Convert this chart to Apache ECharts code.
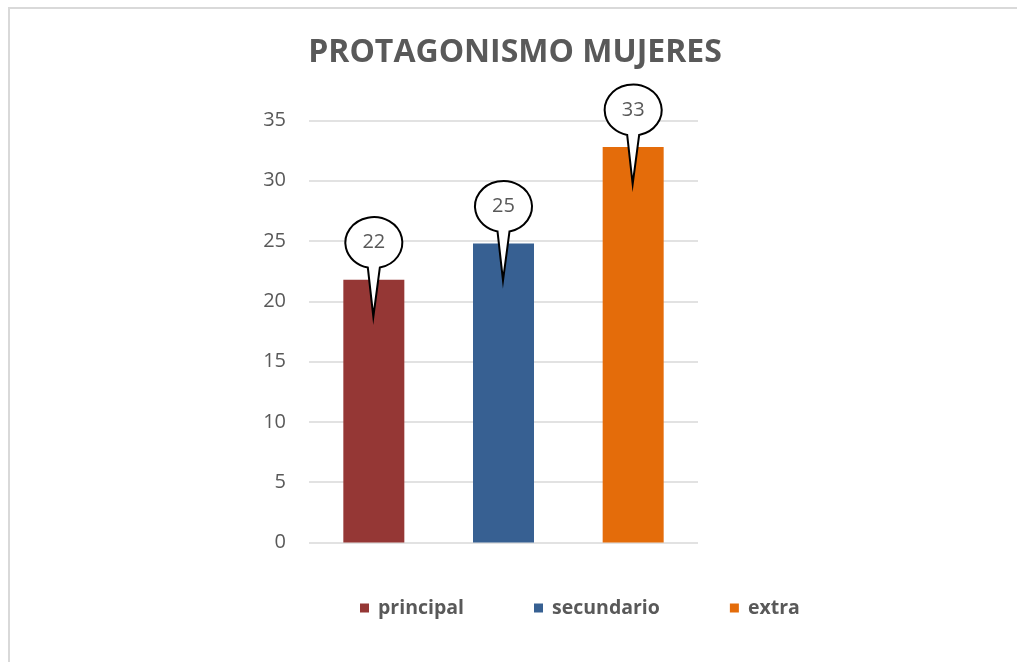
<!DOCTYPE html>
<html>
<head>
<meta charset="utf-8">
<title>Protagonismo mujeres</title>
<script src="https://cdn.jsdelivr.net/npm/echarts@6/dist/echarts.min.js"></script>
<style>
    html, body { margin: 0; padding: 0; background: #fff; }
    #frame { position: absolute; left: 8px; top: 7px; right: 0; bottom: 0;
             border-top: 2px solid #d9d9d9; border-left: 2px solid #d9d9d9; }
    #main { position: absolute; left: 0; top: 0; width: 1017px; height: 662px; }
</style>
</head>
<body>
<div id="frame"></div>
<div id="main"></div>
<script>
// datos del grafico
var categorias = ['principal', 'secundario', 'extra'];
var valores = [21.8, 24.8, 32.8];
var etiquetas = [22, 25, 33];
var colores = ['#953735', '#376092', '#e46c0a'];
var ejeY = { min: 0, max: 35, interval: 5 };

var chartDom = document.getElementById('main');
var myChart = echarts.init(chartDom);
var option;

var fuente = '"Open Sans", "Noto Sans", sans-serif';
var gris = '#595959';

// una serie por categoria, apiladas para que queden centradas
var series = categorias.map(function (nombre, i) {
    var datos = categorias.map(function (c, j) { return j === i ? valores[i] : '-'; });
    return {
        name: nombre,
        type: 'bar',
        stack: 'total',
        barWidth: 61,
        data: datos,
        itemStyle: { color: colores[i] },
        z: 2
    };
});

// globos de texto (callouts) encima de cada barra
series.push({
    name: 'globos',
    type: 'custom',
    z: 10,
    clip: false,
    data: valores.map(function (v, i) { return [i, v, etiquetas[i]]; }),
    encode: { x: 0, y: 1 },
    renderItem: function (params, api) {
        var p = api.coord([api.value(0), api.value(1)]);
        var cx = p[0], top = p[1];
        var cy = top - 37, rx = 28.5, ry = 25.5;
        var dx = 6;
        var jy = cy + ry * Math.sqrt(1 - (dx * dx) / (rx * rx));
        var tipY = top + 37;
        var d = 'M' + (cx + dx) + ' ' + jy +
            ' A' + rx + ' ' + ry + ' 0 1 0 ' + (cx - dx) + ' ' + jy +
            ' L' + (cx - 0.5) + ' ' + tipY + ' Z';
        return {
            type: 'group',
            children: [
                {
                    type: 'path',
                    shape: { pathData: d },
                    style: { fill: '#ffffff', stroke: '#000000', lineWidth: 2 }
                },
                {
                    type: 'text',
                    style: {
                        x: cx, y: cy,
                        text: String(api.value(2)),
                        align: 'center', verticalAlign: 'middle',
                        fill: gris, font: '20px ' + fuente
                    }
                }
            ]
        };
    }
});

option = {
    animation: false,
    title: {
        text: 'PROTAGONISMO MUJERES',
        left: 510,
        textAlign: 'center',
        top: 32,
        textStyle: { fontFamily: fuente, fontWeight: 'bold', fontSize: 32, color: gris }
    },
    legend: {
        data: categorias,
        left: 355,
        top: 593,
        icon: 'rect',
        itemWidth: 9,
        itemHeight: 9,
        itemGap: 70,
        textStyle: { fontFamily: fuente, fontWeight: 'bold', fontSize: 19.5, color: gris, padding: [0, 0, 0, 4] }
    },
    grid: { left: 309, right: 319, top: 120.5, bottom: 119.5, containLabel: false },
    xAxis: {
        type: 'category',
        data: categorias,
        axisLine: { show: false },
        axisTick: { show: false },
        axisLabel: { show: false }
    },
    yAxis: {
        type: 'value',
        min: ejeY.min,
        max: ejeY.max,
        interval: ejeY.interval,
        axisLine: { show: false },
        axisTick: { show: false },
        axisLabel: { fontFamily: fuente, fontSize: 20, color: gris, margin: 23 },
        splitLine: { lineStyle: { color: '#d9d9d9', width: 1.5 } }
    },
    series: series
};

option && myChart.setOption(option);

window.onresize = function () {
    myChart.resize();
};
</script>
</body>
</html>
